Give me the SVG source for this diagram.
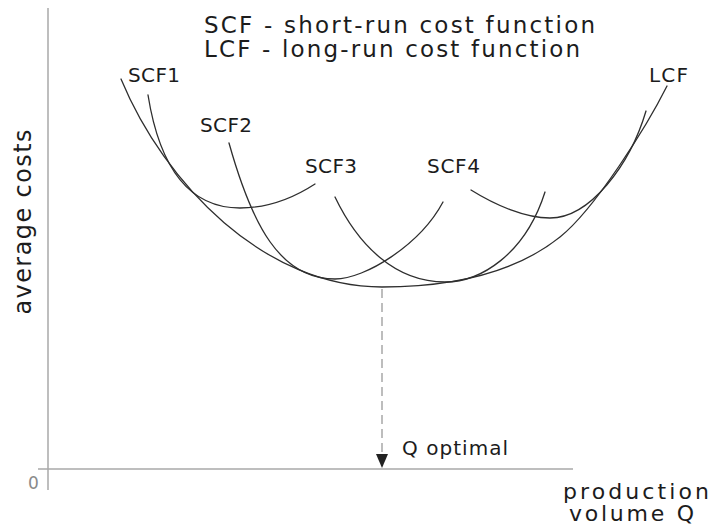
<svg xmlns="http://www.w3.org/2000/svg" width="712" height="526" viewBox="0 0 712 526">
  <style>
    .txt { font-family: "DejaVu Sans", "Open Sans", sans-serif; fill: #1c1c1c; }
    .title { font-size: 23px; }
    .lbl { font-size: 20px; }
    .axis { stroke: #a8a8a8; stroke-width: 1.5; fill: none; }
    .curve { stroke: #2e2e2e; stroke-width: 1.3; fill: none; stroke-linecap: round; }
    .guide { stroke: #9a9a9a; stroke-width: 1.3; fill: none; stroke-dasharray: 9 5; }
  </style>
  <defs>
    <!-- arrowhead drawn along +x so orient="auto" turns it along the line -->
    <marker id="arrow" viewBox="0 0 14 12" refX="14" refY="6" markerWidth="14" markerHeight="12" markerUnits="userSpaceOnUse" orient="auto">
      <path d="M0,0 L14,6 L0,12 Z" fill="#222"/>
    </marker>
  </defs>

  <rect width="712" height="526" fill="#ffffff"/>

  <!-- axes -->
  <g id="axes">
    <line class="axis" x1="48" y1="8" x2="48" y2="490"/>
    <line class="axis" x1="38" y1="469" x2="573" y2="469"/>
    <text class="txt" x="28" y="489" font-size="17" style="fill:#8a8a8a">0</text>
    <text class="txt" font-size="24" text-anchor="middle" textLength="185" transform="translate(31,222) rotate(-90)">average costs</text>
    <text class="txt" font-size="22" x="563" y="499" textLength="146">production</text>
    <text class="txt" font-size="22" x="569" y="521" textLength="125">volume Q</text>
  </g>

  <!-- legend -->
  <g id="legend">
    <text class="txt title" x="204" y="33" textLength="391">SCF - short-run cost function</text>
    <text class="txt title" x="204" y="57" textLength="376">LCF - long-run cost function</text>
  </g>

  <!-- cost curves -->
  <g id="connectors">
    <path id="lcf-curve" class="curve" d="M121,79 C165,185 265,287 382,287 C442,287 510,277 560,237 C595,209 647,126 667,86"/>
    <path id="scf1-curve" class="curve" d="M148,95 C160,170 190,208 240,208 C270,208 295,197 315,184"/>
    <path id="scf2-curve" class="curve" d="M229,143 C252,225 280,279 335,279 C365,279 420,245 443,202"/>
    <path id="scf3-curve" class="curve" d="M335,197 C358,245 395,282 445,282 C480,282 525,255 545,192"/>
    <path id="scf4-curve" class="curve" d="M471,190 C495,205 525,218 550,218 C590,218 630,165 646,111"/>
    <line id="q-optimal-guide" class="guide" x1="382" y1="289" x2="382" y2="468" marker-end="url(#arrow)"/>
  </g>

  <g id="lcf"><text class="txt lbl" x="649" y="82" textLength="39">LCF</text></g>
  <g id="scf1"><text class="txt lbl" x="128" y="82" textLength="52">SCF1</text></g>
  <g id="scf2"><text class="txt lbl" x="200" y="132" textLength="52">SCF2</text></g>
  <g id="scf3"><text class="txt lbl" x="305" y="173" textLength="52">SCF3</text></g>
  <g id="scf4"><text class="txt lbl" x="427" y="173" textLength="53">SCF4</text></g>
  <g id="q-optimal"><text class="txt lbl" x="402" y="455" textLength="106">Q optimal</text></g>
</svg>
